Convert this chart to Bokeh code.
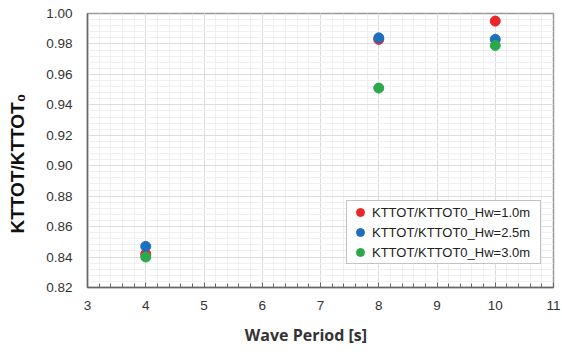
from bokeh.plotting import figure
from bokeh.models import Range1d, FixedTicker, Legend, LegendItem, CustomJSTickFormatter
from bokeh.embed import file_html
from bokeh.resources import INLINE

periods = [4, 8, 10]
hw10 = [0.842, 0.983, 0.995]
hw25 = [0.847, 0.984, 0.983]
hw30 = [0.840, 0.951, 0.979]
series_names = ["KTTOT/KTTOT0_Hw=1.0m", "KTTOT/KTTOT0_Hw=2.5m", "KTTOT/KTTOT0_Hw=3.0m"]
colors = ["#ec2529", "#1f6fbf", "#2ba84a"]
x_ticks = [3, 4, 5, 6, 7, 8, 9, 10, 11]
y_ticks = [0.82, 0.84, 0.86, 0.88, 0.90, 0.92, 0.94, 0.96, 0.98, 1.00]

p = figure(width=562, height=354, output_backend="svg", toolbar_location=None,
           x_range=Range1d(3, 11), y_range=Range1d(0.82, 1.00),
           min_border_left=87, min_border_right=9, min_border_top=13, min_border_bottom=67)
p.background_fill_color = "white"
p.border_fill_color = "white"
p.outline_line_color = "#999999"
p.outline_line_width = 1.5

p.xaxis.ticker = FixedTicker(ticks=x_ticks, minor_ticks=[3 + 0.2 * i for i in range(41)])
p.yaxis.ticker = FixedTicker(ticks=y_ticks, minor_ticks=[0.82 + 0.004 * i for i in range(46)])
p.yaxis.formatter = CustomJSTickFormatter(code="return tick.toFixed(2);")

for ax in (p.xaxis[0], p.yaxis[0]):
    ax.axis_line_color = "#666666"
    ax.axis_line_width = 1.5
    ax.major_label_text_font = "Liberation Sans"
    ax.major_label_text_font_size = "13.5px"
    ax.major_label_text_color = "#333333"
    ax.axis_label_text_font_style = "bold"

p.xaxis.major_tick_in = 5
p.xaxis.major_tick_out = 0
p.xaxis.minor_tick_in = 4
p.xaxis.minor_tick_out = 0
p.xaxis.major_tick_line_color = "#666666"
p.xaxis.minor_tick_line_color = "#666666"
p.xaxis.major_label_standoff = 13
p.yaxis.major_tick_line_color = None
p.yaxis.minor_tick_line_color = None
p.yaxis.major_label_standoff = 9

# axis titles (non-breaking spaces shift the centred titles like the reference)
p.xaxis.axis_label = "Wave Period [s]" + "\u00a0" * 7
p.xaxis.axis_label_text_font = "Open Sans"
p.xaxis.axis_label_text_font_size = "16px"
p.xaxis.axis_label_text_color = "#333333"
p.xaxis.axis_label_standoff = 11

p.yaxis.axis_label = "KTTOT/KTTOT\u2080" + "\u00a0" * 5
p.yaxis.axis_label_text_font = "Liberation Sans"
p.yaxis.axis_label_text_font_size = "19px"
p.yaxis.axis_label_text_color = "#111111"
p.yaxis.axis_label_standoff = 15

p.xgrid.grid_line_color = "#dddddd"
p.ygrid.grid_line_color = "#dddddd"
p.xgrid.minor_grid_line_color = "#f0f0f0"
p.ygrid.minor_grid_line_color = "#f0f0f0"

items = []
for ys, c, name in zip([hw10, hw25, hw30], colors, series_names):
    r = p.scatter(periods, ys, size=10, color=c, line_color=c)
    items.append(LegendItem(label=name, renderers=[r]))

legend = Legend(items=items, location=(259, 23), orientation="vertical")
legend.label_text_font = "Liberation Sans"
legend.label_text_font_size = "13px"
legend.label_text_color = "#222222"
legend.glyph_width = 24
legend.glyph_height = 20
legend.label_standoff = 0
legend.label_width = 167
legend.spacing = 0
legend.padding = 1
legend.margin = 0
legend.border_line_color = "#888888"
legend.border_line_width = 1
legend.background_fill_alpha = 1
p.add_layout(legend, "center")

open("out.html", "w").write(file_html(p, INLINE))
